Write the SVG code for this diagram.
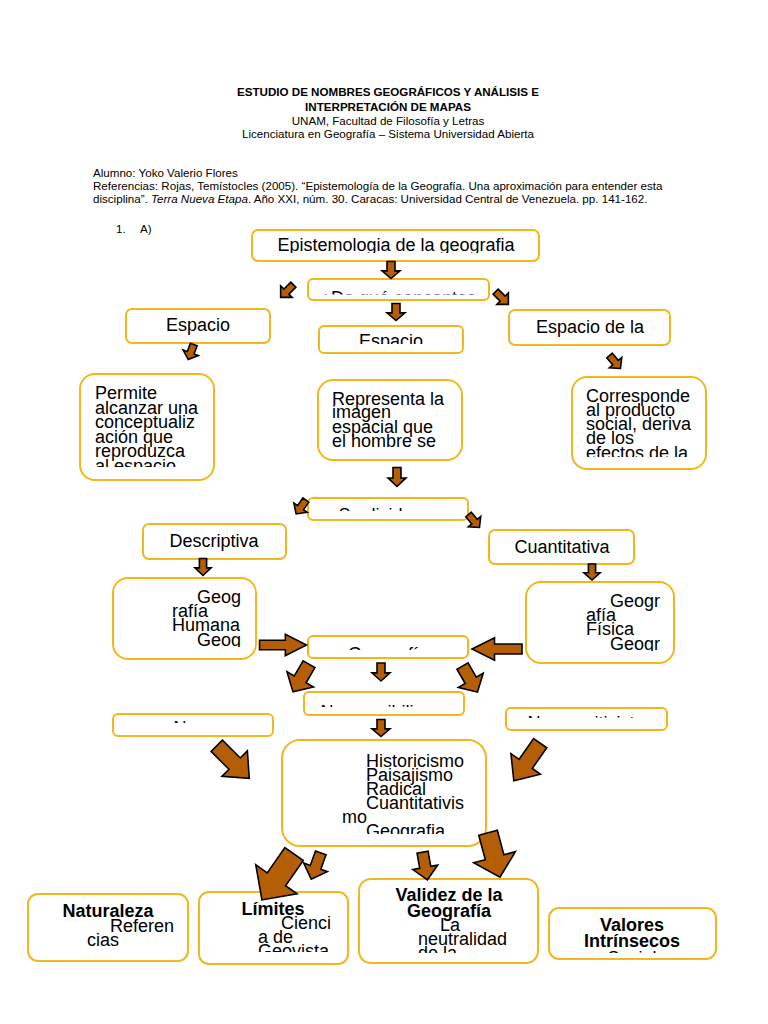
<svg xmlns="http://www.w3.org/2000/svg" xmlns:xlink="http://www.w3.org/1999/xlink" width="768" height="1024" viewBox="0 0 768 1024">
<style>
text{font-family:"Liberation Sans",Arial,sans-serif;fill:#000}
.h{font-size:11.6px;font-weight:bold}
.s{font-size:11.6px}
.t{font-size:18px}
.b{font-size:18px;font-weight:bold}
.box{fill:#fff;stroke:#f3b61f;stroke-width:2}
.arr{fill:#b45f06;stroke:#000;stroke-width:1.6;stroke-linejoin:miter;vector-effect:non-scaling-stroke}
</style>
<defs>
<path id="ar" class="arr" d="M-10,-4 L1,-4 L1,-9 L10,0 L1,9 L1,4 L-10,4 Z"/>
<clipPath id="c1"><rect x="252" y="231" width="287" height="22"/></clipPath>
<clipPath id="c2"><rect x="308" y="280" width="181" height="14.5"/></clipPath>
<clipPath id="c3"><rect x="319" y="327" width="144" height="17"/></clipPath>
<clipPath id="c4"><rect x="80" y="375" width="134" height="92"/></clipPath>
<clipPath id="c5"><rect x="318" y="381" width="144" height="71"/></clipPath>
<clipPath id="c6"><rect x="572" y="378" width="134" height="79"/></clipPath>
<clipPath id="c7"><rect x="308" y="499" width="160" height="12"/></clipPath>
<clipPath id="c8"><rect x="113" y="579" width="143" height="68"/></clipPath>
<clipPath id="c9"><rect x="526" y="583" width="148" height="68"/></clipPath>
<clipPath id="c10"><rect x="308" y="637" width="160" height="13"/></clipPath>
<clipPath id="c11"><rect x="304" y="693" width="160" height="14"/></clipPath>
<clipPath id="c12"><rect x="113" y="715" width="160" height="8"/></clipPath>
<clipPath id="c13"><rect x="506" y="709" width="161" height="9"/></clipPath>
<clipPath id="c14"><rect x="282" y="741" width="204" height="93"/></clipPath>
<clipPath id="c15"><rect x="199" y="893" width="149" height="59"/></clipPath>
<clipPath id="c16"><rect x="359" y="880" width="179" height="73"/></clipPath>
<clipPath id="c17"><rect x="549" y="909" width="167" height="44"/></clipPath>
</defs>

<g id="header">
<text class="h" x="388" y="96" text-anchor="middle">ESTUDIO DE NOMBRES GEOGRÁFICOS Y ANÁLISIS E</text>
<text class="h" x="388" y="111" text-anchor="middle">INTERPRETACIÓN DE MAPAS</text>
<text class="s" x="388" y="125" text-anchor="middle">UNAM, Facultad de Filosofía y Letras</text>
<text class="s" x="388" y="138" text-anchor="middle">Licenciatura en Geografía – Sistema Universidad Abierta</text>
<text class="s" x="93" y="177">Alumno: Yoko Valerio Flores</text>
<text class="s" x="93" y="190">Referencias: Rojas, Temístocles (2005). “Epistemología de la Geografía. Una aproximación para entender esta</text>
<text class="s" x="93" y="203">disciplina”. <tspan font-style="italic">Terra Nueva Etapa</tspan>. Año XXI, núm. 30. Caracas: Universidad Central de Venezuela. pp. 141-162.</text>
<text class="s" x="116" y="233" font-size="12.5">1.</text>
<text class="s" x="140" y="233" font-size="12.5">A)</text>
</g>

<g id="n-epist"><rect class="box" x="252" y="230" width="287" height="31" rx="6"/>
<g clip-path="url(#c1)"><text class="t" x="396" y="251" text-anchor="middle">Epistemologia de la geografia</text></g></g>
<g id="n-dequeconceptos"><rect class="box" x="308" y="279" width="181" height="21" rx="5"/>
<g clip-path="url(#c2)"><text class="t" x="398" y="304" text-anchor="middle">¿De qué conceptos</text></g></g>
<g id="n-espacio-left"><rect class="box" x="126" y="309" width="144" height="34" rx="6"/>
<text class="t" x="198" y="331" text-anchor="middle">Espacio</text></g>
<g id="n-espacio-center"><rect class="box" x="319" y="326" width="144" height="27" rx="5"/>
<g clip-path="url(#c3)"><text class="t" x="391" y="347" text-anchor="middle">Espacio</text></g></g>
<g id="n-espacio-right"><rect class="box" x="509" y="310" width="161" height="35" rx="6"/>
<text class="t" x="590" y="333" text-anchor="middle">Espacio de la</text></g>

<g id="n-permite"><rect class="box" x="80" y="374" width="134" height="106" rx="15"/>
<g clip-path="url(#c4)"><text class="t" x="95" y="399">Permite</text><text class="t" x="95" y="414">alcanzar una</text><text class="t" x="95" y="428">conceptualiz</text><text class="t" x="95" y="443">ación que</text><text class="t" x="95" y="457">reproduzca</text><text class="t" x="95" y="472">al espacio</text></g></g>
<g id="n-representa"><rect class="box" x="318" y="380" width="144" height="80" rx="15"/>
<g clip-path="url(#c5)"><text class="t" x="332" y="405">Representa la</text><text class="t" x="332" y="418">imagen</text><text class="t" x="332" y="433">espacial que</text><text class="t" x="332" y="447">el hombre se</text></g></g>
<g id="n-corresponde"><rect class="box" x="572" y="377" width="134" height="92" rx="15"/>
<g clip-path="url(#c6)"><text class="t" x="586" y="402">Corresponde</text><text class="t" x="586" y="416">al producto</text><text class="t" x="586" y="430">social, deriva</text><text class="t" x="586" y="444">de los</text><text class="t" x="586" y="459">efectos de la</text></g></g>

<g id="n-sedivide"><rect class="box" x="308" y="498" width="160" height="22" rx="5"/>
<g clip-path="url(#c7)"><text class="t" x="388" y="521" text-anchor="middle">Se divide en</text></g></g>
<g id="n-descriptiva"><rect class="box" x="143" y="524" width="143" height="35" rx="6"/>
<text class="t" x="214" y="547" text-anchor="middle">Descriptiva</text></g>
<g id="n-cuantitativa"><rect class="box" x="489" y="530" width="145" height="34" rx="6"/>
<text class="t" x="562" y="553" text-anchor="middle">Cuantitativa</text></g>

<g id="n-geohumana"><rect class="box" x="113" y="578" width="143" height="81" rx="15"/>
<g clip-path="url(#c8)"><text class="t" x="197" y="603">Geog</text><text class="t" x="172" y="617">rafía</text><text class="t" x="172" y="631">Humana</text><text class="t" x="197" y="646">Geog</text></g></g>
<g id="n-geofisica"><rect class="box" x="526" y="582" width="148" height="81" rx="15"/>
<g clip-path="url(#c9)"><text class="t" x="610" y="607">Geogr</text><text class="t" x="586" y="621">afía</text><text class="t" x="586" y="635">Física</text><text class="t" x="610" y="650">Geogr</text></g></g>
<g id="n-geografia"><rect class="box" x="308" y="636" width="160" height="22" rx="5"/>
<g clip-path="url(#c10)"><text class="t" x="388" y="660" text-anchor="middle">Geografía</text></g></g>

<g id="n-neoposibilismo"><rect class="box" x="304" y="692" width="160" height="23" rx="5"/>
<g clip-path="url(#c11)"><text class="t" x="384" y="718" text-anchor="middle">Neo posibilismo</text></g></g>
<g id="n-neo"><rect class="box" x="113" y="714" width="160" height="22" rx="5"/>
<g clip-path="url(#c12)"><text class="t" x="190" y="734" text-anchor="middle">Neo</text></g></g>
<g id="n-neopositivista"><rect class="box" x="506" y="708" width="161" height="22" rx="5"/>
<g clip-path="url(#c13)"><text class="t" x="586" y="729" text-anchor="middle">Neo positivista</text></g></g>

<g id="n-historicismo"><rect class="box" x="282" y="740" width="204" height="106" rx="18"/>
<g clip-path="url(#c14)"><text class="t" x="366" y="767">Historicismo</text><text class="t" x="366" y="781">Paisajismo</text><text class="t" x="366" y="795">Radical</text><text class="t" x="366" y="809">Cuantitativis</text><text class="t" x="342" y="823">mo</text><text class="t" x="366" y="837">Geografia</text></g></g>

<g id="n-naturaleza"><rect class="box" x="28" y="894" width="160" height="67" rx="10"/>
<text class="b" x="108" y="917" text-anchor="middle">Naturaleza</text><text class="t" x="110" y="932">Referen</text><text class="t" x="87" y="946">cias</text></g>
<g id="n-limites"><rect class="box" x="199" y="892" width="149" height="72" rx="10"/>
<g clip-path="url(#c15)"><text class="b" x="273" y="915" text-anchor="middle">Límites</text><text class="t" x="281" y="929">Cienci</text><text class="t" x="258" y="943">a de</text><text class="t" x="258" y="957">Geovista</text></g></g>
<g id="n-validez"><rect class="box" x="359" y="879" width="179" height="84" rx="12"/>
<g clip-path="url(#c16)"><text class="b" x="449" y="901" text-anchor="middle">Validez de la</text><text class="b" x="449" y="917" text-anchor="middle">Geografía</text><text class="t" x="440" y="931">La</text><text class="t" x="418" y="945">neutralidad</text><text class="t" x="418" y="959">de la</text></g></g>
<g id="n-valores"><rect class="box" x="549" y="908" width="167" height="51" rx="10"/>
<g clip-path="url(#c17)"><text class="b" x="632" y="931" text-anchor="middle">Valores</text><text class="b" x="632" y="947" text-anchor="middle">Intrínsecos</text><text class="t" x="632" y="964" text-anchor="middle">Social</text></g></g>

<g id="connectors">
<use xlink:href="#ar" transform="translate(391,270) rotate(90) scale(0.85,1)"/>
<use xlink:href="#ar" transform="translate(287,291) rotate(135) scale(0.9,0.9)"/>
<use xlink:href="#ar" transform="translate(502,298) rotate(45) scale(0.9,0.9)"/>
<use xlink:href="#ar" transform="translate(396,312) rotate(90) scale(0.85,1)"/>
<use xlink:href="#ar" transform="translate(191,352) rotate(110) scale(0.8,0.9)"/>
<use xlink:href="#ar" transform="translate(615,362) rotate(50) scale(0.85,0.9)"/>
<use xlink:href="#ar" transform="translate(397,477) rotate(90) scale(0.95,1)"/>
<use xlink:href="#ar" transform="translate(301,507) rotate(125) scale(0.85,0.9)"/>
<use xlink:href="#ar" transform="translate(474,521) rotate(50) scale(0.85,0.9)"/>
<use xlink:href="#ar" transform="translate(203,567) rotate(90) scale(0.85,0.9)"/>
<use xlink:href="#ar" transform="translate(592,572) rotate(90) scale(0.8,0.9)"/>
<use xlink:href="#ar" transform="translate(283,645) scale(2.35,1.2)"/>
<use xlink:href="#ar" transform="translate(497,649) rotate(180) scale(2.5,1.25)"/>
<use xlink:href="#ar" transform="translate(301,678) rotate(120) scale(1.6,1.7)"/>
<use xlink:href="#ar" transform="translate(381,672) rotate(90) scale(0.9,1)"/>
<use xlink:href="#ar" transform="translate(470,679) rotate(60) scale(1.5,1.6)"/>
<use xlink:href="#ar" transform="translate(381,728) rotate(90) scale(0.85,1)"/>
<use xlink:href="#ar" transform="translate(233,762) rotate(45) scale(2.3,2)"/>
<use xlink:href="#ar" transform="translate(527,762) rotate(125) scale(2.3,2)"/>
<use xlink:href="#ar" transform="translate(278,877) rotate(125) scale(2.8,2.8)"/>
<use xlink:href="#ar" transform="translate(316,866) rotate(110) scale(1.4,1.4)"/>
<use xlink:href="#ar" transform="translate(425,866) rotate(80) scale(1.4,1.4)"/>
<use xlink:href="#ar" transform="translate(494,855) rotate(75) scale(2.3,2.4)"/>
</g>
</svg>
